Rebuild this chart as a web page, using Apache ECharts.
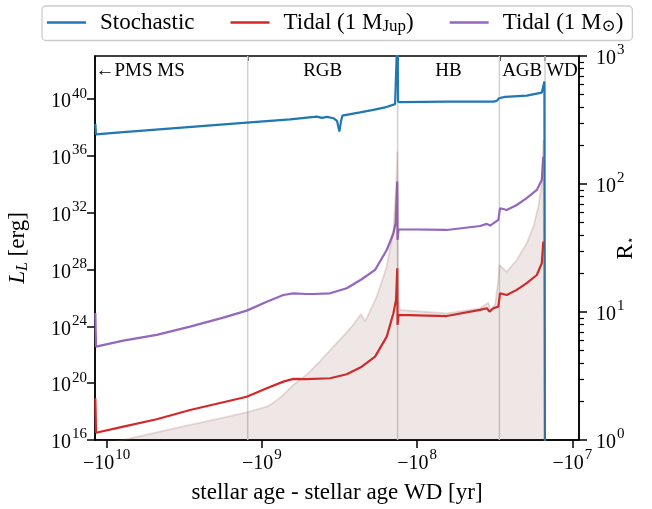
<!DOCTYPE html>
<html>
<head>
<meta charset="utf-8">
<script src="https://cdn.jsdelivr.net/npm/echarts@6/dist/echarts.min.js"></script>
<style>
  html, body { margin: 0; padding: 0; background: #fff; }
  #chart { width: 652px; height: 509px; }
</style>
</head>
<body>
<div id="chart"></div>
<script>
// Time axis: stellar age minus white-dwarf age, in years (all negative).
const xSpan = [-1.19e10, -9.06e6];
const xTicks = [-1e10, -1e9, -1e8, -1e7];
const lumTicks = [1e16, 1e20, 1e24, 1e28, 1e32, 1e36, 1e40];
const radTicks = [1, 10, 100, 1000];
const radMinorTicks = [2, 3, 4, 5, 6, 7, 8, 9, 20, 30, 40, 50, 60, 70, 80, 90, 200, 300, 400, 500, 600, 700, 800, 900];

// Evolutionary phase boundaries and their names
const phaseEdges = [-1.235e9, -1.336e8, -2.951e7, -1.500e7];
const phaseNames = ['\u2190PMS MS', 'RGB', 'HB', 'AGB', 'WD'];

// Stochastic (convective) luminosity, erg
const stochAge = [-1.184e10, -1.172e10, -8.20e9, -1.253e9, -6.592e8, -4.436e8, -4.102e8, -3.811e8,
  -3.467e8, -3.281e8, -3.170e8, -3.090e8, -3.034e8, -2.333e8, -1.914e8, -1.611e8, -1.387e8,
  -1.337e8, -1.327e8, -1.288e8, -6.442e7, -3.228e7, -3.069e7, -2.967e7, -2.716e7, -1.968e7,
  -1.574e7, -1.514e7, -1.500e7];
const stochLum = [1.82e38, 3.31e37, 4.57e37, 2.24e38, 3.80e38, 5.89e38, 4.79e38, 5.62e38,
  4.57e38, 2.95e38, 5.25e37, 2.95e38, 6.92e38, 1.17e39, 1.78e39, 2.63e39, 4.47e39,
  1e45, 6.76e39, 6.17e39, 6.76e39, 6.76e39, 7.59e39, 1.17e40, 1.45e40, 1.78e40,
  2.88e40, 1.74e41, 1e10];

// Tidal luminosity for a 1 Jupiter-mass companion, erg
const jupAge = [-1.184e10, -1.172e10, -7.816e9, -4.764e9, -2.904e9, -1.774e9, -1.253e9, -9.311e8,
  -7.278e8, -6.281e8, -5.140e8, -3.639e8, -2.844e8, -2.275e8, -1.866e8, -1.570e8, -1.422e8,
  -1.368e8, -1.343e8, -1.337e8, -1.318e8, -6.442e7, -3.933e7, -3.561e7, -3.416e7, -3.228e7,
  -2.998e7, -2.924e7, -2.647e7, -2.282e7, -1.968e7, -1.694e7, -1.574e7, -1.538e7];
const jupLum = [8.71e18, 3.24e16, 8.71e16, 2.88e17, 1.29e18, 4.57e18, 1.12e19, 4.37e19,
  1.29e20, 2.0e20, 1.91e20, 2.24e20, 4.27e20, 1.45e21, 7.41e21, 1.91e23, 8.51e24,
  7.24e25, 1.26e28, 1.26e24, 6.46e24, 5.37e24, 1.45e25, 1.91e25, 1.10e25, 1.91e25,
  2.45e25, 2.14e26, 1.62e26, 3.72e26, 1.10e27, 4.17e27, 2.82e28, 9.33e29];

// Tidal luminosity for a 1 solar-mass companion, erg
const sunAge = [-1.184e10, -1.172e10, -7.816e9, -4.764e9, -2.904e9, -1.774e9, -1.253e9, -9.311e8,
  -7.278e8, -6.281e8, -5.140e8, -4.667e8, -3.639e8, -2.844e8, -2.275e8, -1.866e8, -1.570e8,
  -1.422e8, -1.374e8, -1.343e8, -1.337e8, -1.318e8, -6.442e7, -3.933e7, -3.561e7, -3.388e7,
  -2.998e7, -2.924e7, -2.647e7, -2.282e7, -1.968e7, -1.694e7, -1.574e7, -1.538e7];
const sunLum = [8.91e24, 3.72e22, 1.00e23, 2.51e23, 9.55e23, 4.17e24, 1.29e25, 5.50e25,
  1.62e26, 2.14e26, 1.91e26, 1.91e26, 2.14e26, 4.90e26, 2.09e27, 9.55e27, 2.40e29,
  3.63e30, 1.95e31, 1.58e34, 1.23e30, 6.92e30, 6.17e30, 1.17e31, 1.66e31, 1.26e31,
  3.16e31, 2.09e32, 1.58e32, 3.55e32, 1.07e33, 4.07e33, 2.04e34, 9.12e35];

// Stellar radius, solar radii
const radAge = [-1.172e10, -7.816e9, -4.764e9, -2.904e9, -1.774e9, -1.253e9, -9.311e8, -8.446e8,
  -7.278e8, -6.281e8, -5.140e8, -4.200e8, -3.467e8, -2.950e8, -2.638e8, -2.299e8, -2.166e8,
  -1.821e8, -1.570e8, -1.422e8, -1.354e8, -1.342e8, -1.327e8, -1.288e8, -6.442e7, -3.933e7,
  -3.477e7, -3.388e7, -3.148e7, -2.998e7, -2.951e7, -2.647e7, -2.282e7, -1.968e7, -1.782e7,
  -1.656e7, -1.574e7, -1.538e7, -1.514e7, -1.500e7];
const radius = [0.89, 1.0, 1.148, 1.31, 1.493, 1.646, 1.82, 1.95,
  2.25, 2.69, 3.24, 4.15, 5.36, 6.60, 7.68, 9.64, 8.40,
  13.17, 22.6, 43.7, 121, 179, 12.4, 10.37, 9.77, 10.69,
  11.82, 10.37, 11.35, 17.8, 23.3, 20.6, 25.5, 34.4, 46.4,
  66.5, 101, 221, 229, 0.5];

const FONT = "'Liberation Serif', 'DejaVu Serif', serif";
const BLACK = '#000';

// The time axis is logarithmic in |age|, reversed so that older ages sit on the left
const toX = a => -a;
const pairs = (ages, vals) => ages.map((a, i) => [toX(a), vals[i]]);
const expOf = v => Math.round(Math.log10(Math.abs(v)));

const supRich = {
  b: { fontFamily: FONT, fontSize: 20, color: BLACK, lineHeight: 26, verticalAlign: 'bottom' },
  s: { fontFamily: FONT, fontSize: 15, color: BLACK, lineHeight: 26, verticalAlign: 'top', padding: [0, 0, 0, 1] }
};

const logX = (extra) => Object.assign({
  type: 'log', logBase: 10, inverse: true,
  min: toX(xSpan[1]), max: toX(xSpan[0]),
  splitLine: { show: false }, minorTick: { show: false }
}, extra);

const boundarySeries = phaseEdges.map(e => ({
  type: 'line', xAxisIndex: 0, yAxisIndex: 1, symbol: 'none', silent: true, z: 1,
  data: [[toX(e), 1], [toX(e), 1000]],
  lineStyle: { color: '#d0d0d0', width: 1.5 }
}));

// Phase labels sit near the top, centred (in log time) inside each phase
const labelY = 1.0e42;
const logMid = (a, b) => -Math.pow(10, (Math.log10(-a) + Math.log10(-b)) / 2);
const phaseLabelData = [
  { value: [toX(xSpan[0]), labelY], name: phaseNames[0], label: { position: 'right', distance: 0 } },
  { value: [toX(logMid(phaseEdges[0], phaseEdges[1])), labelY], name: phaseNames[1] },
  { value: [toX(logMid(phaseEdges[1], phaseEdges[2])), labelY], name: phaseNames[2] },
  { value: [toX(logMid(phaseEdges[2], phaseEdges[3])), labelY], name: phaseNames[3] },
  { value: [toX(logMid(phaseEdges[3], xSpan[1])), labelY], name: phaseNames[4] }
];

const legendNames = {
  'Stochastic': 'Stochastic',
  'Tidal Jup': 'Tidal (1 M{sub|Jup})',
  'Tidal Sun': 'Tidal (1 M{sub|\u2299})'
};

const chart = echarts.init(document.getElementById('chart'), null, { renderer: 'canvas' });
chart.setOption({
  animation: false,
  backgroundColor: '#fff',
  grid: {
    left: 95, right: 73, top: 56, bottom: 69, outerBoundsMode: 'none', containLabel: false,
    show: true, borderColor: BLACK, borderWidth: 1.5, backgroundColor: 'transparent'
  },
  legend: {
    left: 42, top: 6,
    data: [
      { name: 'Stochastic', icon: 'rect' },
      { name: 'Tidal Jup', icon: 'rect' },
      { name: 'Tidal Sun', icon: 'rect' }
    ],
    itemWidth: 39, itemHeight: 2.5, itemGap: 36,
    padding: [5, 9, 5, 5],
    borderColor: '#cccccc', borderWidth: 1.3, borderRadius: 4,
    formatter: n => legendNames[n],
    textStyle: {
      fontFamily: FONT, fontSize: 23, color: BLACK, padding: [0, 0, 0, 9],
      rich: {
        sub: { fontFamily: FONT, fontSize: 17, color: BLACK, verticalAlign: 'bottom', padding: [9, 0, 0, 0] }
      }
    }
  },
  xAxis: [
    logX({
      position: 'bottom',
      name: 'stellar age - stellar age WD [yr]', nameLocation: 'middle', nameGap: 41, nameMoveOverlap: false,
      nameTextStyle: { fontFamily: FONT, fontSize: 23, color: BLACK },
      axisLine: { show: true, lineStyle: { color: BLACK, width: 1.5 } },
      axisTick: { show: true, length: 8, inside: false, customValues: xTicks.map(toX), lineStyle: { color: BLACK, width: 1.5 } },
      axisLabel: {
        customValues: xTicks.map(toX), margin: 8,
        formatter: v => '{b|\u221210}{s|' + expOf(v) + '}', rich: supRich
      }
    }),
    logX({
      position: 'top',
      axisLine: { show: false },
      axisTick: { show: true, inside: true, length: 5, customValues: phaseEdges.map(toX), lineStyle: { color: BLACK, width: 1.5 } },
      axisLabel: { show: false }
    })
  ],
  yAxis: [
    {
      type: 'log', logBase: 10, position: 'left', min: 1e16, max: 1.1e43,
      splitLine: { show: false },
      name: '{i|L}{sub|L} [erg]', nameLocation: 'middle', nameGap: 64, nameRotate: 90, nameMoveOverlap: false,
      nameTextStyle: {
        fontFamily: FONT, fontSize: 23, color: BLACK,
        rich: {
          i: { fontFamily: FONT, fontSize: 23, fontStyle: 'italic', color: BLACK },
          sub: { fontFamily: FONT, fontSize: 16, fontStyle: 'italic', color: BLACK, verticalAlign: 'bottom', padding: [10, 0, 0, 0] }
        }
      },
      axisLine: { show: true, lineStyle: { color: BLACK, width: 1.5 } },
      axisTick: { show: true, length: 8, customValues: lumTicks, lineStyle: { color: BLACK, width: 1.5 } },
      axisLabel: { customValues: lumTicks, margin: 8, formatter: v => '{b|10}{s|' + expOf(v) + '}', rich: supRich }
    },
    {
      type: 'log', logBase: 10, position: 'right', min: 1, max: 1000,
      splitLine: { show: false },
      name: 'R{sub|\u22c6}', nameLocation: 'middle', nameGap: 35, nameRotate: 90, nameMoveOverlap: false,
      nameTextStyle: {
        fontFamily: FONT, fontSize: 23, color: BLACK,
        rich: { sub: { fontFamily: 'DejaVu Sans', fontSize: 12, color: BLACK, verticalAlign: 'bottom', padding: [10, 0, 0, 0] } }
      },
      axisLine: { show: true, lineStyle: { color: BLACK, width: 1.5 } },
      axisTick: { show: true, length: 8, customValues: radTicks, lineStyle: { color: BLACK, width: 1.5 } },
      axisLabel: { customValues: radTicks, margin: 17, formatter: v => '{b|10}{s|' + expOf(v) + '}', rich: supRich }
    },
    {
      type: 'log', logBase: 10, position: 'right', min: 1, max: 1000,
      splitLine: { show: false },
      axisLine: { show: false },
      axisTick: { show: true, length: 5, customValues: radMinorTicks, lineStyle: { color: BLACK, width: 1.2 } },
      axisLabel: { show: false }
    }
  ],
  series: [
    ...boundarySeries,
    {
      name: 'Stochastic', type: 'line', xAxisIndex: 0, yAxisIndex: 0, symbol: 'none', z: 3,
      data: pairs(stochAge, stochLum),
      lineStyle: { color: '#1f77b4', width: 2.2 }, itemStyle: { color: '#1f77b4' }
    },
    {
      name: 'Tidal Jup', type: 'line', xAxisIndex: 0, yAxisIndex: 0, symbol: 'none', z: 3,
      data: pairs(jupAge, jupLum),
      lineStyle: { color: '#d62728', width: 2.2 }, itemStyle: { color: '#d62728' }
    },
    {
      name: 'Tidal Sun', type: 'line', xAxisIndex: 0, yAxisIndex: 0, symbol: 'none', z: 3,
      data: pairs(sunAge, sunLum),
      lineStyle: { color: '#9467bd', width: 2.2 }, itemStyle: { color: '#9467bd' }
    },
    {
      name: 'Radius', type: 'line', xAxisIndex: 0, yAxisIndex: 1, symbol: 'none', z: 4, silent: true,
      data: pairs(radAge, radius),
      lineStyle: { color: 'rgba(140,86,75,0.2)', width: 1.8 },
      areaStyle: { color: 'rgba(140,86,75,0.2)', origin: 'start' }
    },
    {
      type: 'scatter', xAxisIndex: 0, yAxisIndex: 0, z: 5, silent: true,
      symbolSize: 1, itemStyle: { color: 'rgba(0,0,0,0)' },
      data: phaseLabelData,
      label: {
        show: true, position: 'inside', formatter: p => p.name,
        fontFamily: FONT, fontSize: 19, color: BLACK, opacity: 1, textBorderWidth: 0
      }
    }
  ]
});
</script>
</body>
</html>
